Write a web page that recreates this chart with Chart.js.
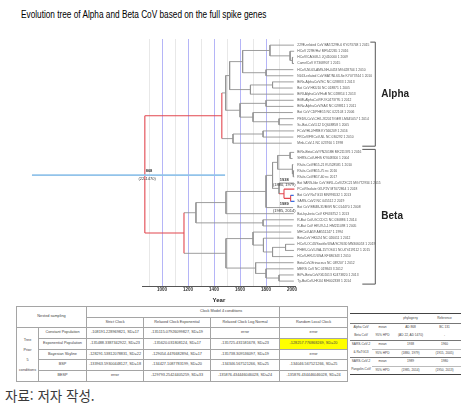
<!DOCTYPE html>
<html lang="ko">
<head>
<meta charset="utf-8">
<title>CoV spike gene tree</title>
<script src="https://cdn.jsdelivr.net/npm/chart.js@4.4.0/dist/chart.umd.min.js"></script>
<style>
  body { margin: 0; background: #fff; }
  #page { position: relative; width: 470px; height: 411px; overflow: hidden; }
  #title { position: absolute; left: 21px; top: 9px; font: 10px 'Liberation Sans Narrow', 'Liberation Sans', sans-serif; color: #000; white-space: nowrap; transform-origin: 0 0; }
  #chartBox { position: absolute; left: 0; top: 0; width: 470px; height: 305px; }
  table { position: absolute; border-collapse: collapse; table-layout: fixed; font-family: 'Liberation Sans Narrow', 'Liberation Sans', sans-serif; color: #444; }
  td { padding: 0; text-align: center; white-space: nowrap; overflow: hidden; line-height: 1; }
  #nested { left: 16px; top: 306px; width: 331px; font-size: 3.8px; border: 1px solid #666; }
  #nested td { border: 1px solid #a5a5a5; }
  #nested td.hi { background: #ffff00; }
  #tmrca { left: 350px; top: 313px; width: 111px; font-size: 3.2px; border-top: 1px solid #444; border-bottom: 1px solid #444; }
  #tmrca tr.sep td { border-top: 1px solid #777; }
  #tmrca tr.sub td + td { border-top: 1px solid #bbb; }
  #note { position: absolute; left: 5px; top: 389px; font: 13.5px 'Noto Sans CJK KR', sans-serif; color: #3a3a3a; line-height: 1; }
</style>
</head>
<body>
<div id="page">
  <div id="title">Evolution tree of Alpha and Beta CoV based on the full spike genes</div>
  <div id="chartBox"><canvas id="tree" width="470" height="305"></canvas></div>

  <table id="nested">
    <colgroup><col style="width:22px"><col style="width:48px"><col style="width:57px"><col style="width:67px"><col style="width:69px"><col style="width:68px"></colgroup>
    <tr style="height:11px"><td colspan="2" rowspan="2">Nested sampling</td><td colspan="3" style="text-align:left;padding-left:113px">Clock Model 4 conditions</td><td></td></tr>
    <tr style="height:10px"><td>Strict Clock</td><td>Relaxed Clock Exponential</td><td>Relaxed Clock Log Normal</td><td>Random Local Clock</td></tr>
    <tr style="height:11px"><td rowspan="5" style="line-height:10px">Tree<br>Prior<br>5<br>conditions</td><td>Constant Population</td><td>-108191.228969821, SD=17</td><td>-135115.07926099827, SD=19</td><td>error</td><td>error</td></tr>
    <tr style="height:11px"><td>Exponential Population</td><td>-135488.3387342922, SD=23</td><td>-135620.031808124, SD=17</td><td>-135725.431581678, SD=23</td><td class="hi">-128257.776868269, SD=20</td></tr>
    <tr style="height:10px"><td>Bayesian Skyline</td><td>-128291.53812078831, SD=22</td><td>-129054.4476682894, SD=17</td><td>-135738.309536097, SD=19</td><td>error</td></tr>
    <tr style="height:11px"><td>BSP</td><td>-133963.59300448127, SD=18</td><td>-134427.1087783199, SD=20</td><td>-134346.567521266, SD=25</td><td>-134046.567521266, SD=25</td></tr>
    <tr style="height:11px"><td>BESP</td><td>error</td><td>-129793.25424405259, SD=33</td><td>-135876.434446046028, SD=24</td><td>-135876.434446046028, SD=24</td></tr>
  </table>

  <table id="tmrca">
    <colgroup><col style="width:22px"><col style="width:21px"><col style="width:35px"><col style="width:33px"></colgroup>
    <tr style="height:10px"><td></td><td></td><td>phylogeny</td><td>Reference</td></tr>
    <tr class="sep" style="height:8.5px"><td>Alpha CoV</td><td>mean</td><td>AD 868</td><td>BC 131</td></tr>
    <tr style="height:8.5px"><td>Beta CoV</td><td>95% HPD</td><td>(AD 22, AD 1470)</td><td>-</td></tr>
    <tr class="sep" style="height:8.5px"><td>SARS-CoV-2</td><td>mean</td><td>1938</td><td>1960</td></tr>
    <tr class="sub" style="height:8.5px"><td>&amp; RaTG13</td><td>95% HPD</td><td>(1880, 1979)</td><td>(1915, 2005)</td></tr>
    <tr class="sep" style="height:8.5px"><td>SARS-CoV-2</td><td>mean</td><td>1989</td><td>1980</td></tr>
    <tr class="sub" style="height:8.5px"><td>Pangolin-CoV</td><td>95% HPD</td><td>(1985, 2014)</td><td>(1950, 2013)</td></tr>
  </table>

  <div id="note">자료: 저자 작성.</div>
</div>

<script>
// tips, top to bottom
const leafNames = [
  '229E-related CoV BAT/229E-6 KY073748 1 2015', 'HCoV 229E/Hu/ MF542265 1 2016', 'HCoV/CAG08-1 JQ410000 1 2009',
  'CamelCoV KT368907 1 2015', 'HCoV-NL63-AMS-NH-0453 MG428704 1 2010', 'NL63-related CoV BAT/NL63-Se KY073744 1 2010',
  'BtRs-AlphaCoV/SC NC 028833 1 2013', 'Bat CoV HKU10 NC 018871 1 2005', 'BtRf-AlphaCoV/HuB NC 028814 1 2013',
  'BtMf-AlphaCoV/FJ KJ473795 1 2012', 'BtNv-AlphaCoV/SAX NC 028811 1 2011', 'Bat CoV CDPHE15 NC 022103 1 2006',
  'PEDV-CoV-CH/LJX2017/GER LM645057 1 2014', 'Sc-Bat-CoV-512 DQ648858 1 2005', 'FCoV/HLJ/HRB KY566209 1 2016',
  'FRCoV/FRCoV-NL NC 030292 1 2010', 'Mink-CoV-1 NC 023760 1 1998',
  'BtRs-BetaCoV/YN2018B MK211376 1 2016', 'SHRS-CoV-HHS KY648300 1 2004', 'Rh-fe-CoV/B15-21 KU528581 1 2010',
  'Rh-fe-CoV/B15-75 nc 2016', 'Rh-fe-CoV/B17-60 nc 2017', 'Bat SARS-like CoV BtRL-CoV/ZXC21 MG772934 1 2015',
  'PCoV/Isolate GX-P2V MT072864 1 2018', 'Bat CoV RaTG13 MN996532 1 2013', 'SARS-CoV2 NC 045512 2 2019',
  'Bat CoV BM48-31/BGR NC 014470 1 2008', 'Bat-hp-beta CoV KF636752 1 2013', 'R-Bat CoV-GCCDC1 NC 030886 1 2014',
  'R-Bat CoV HKU9-5-1 HM211098 1 2005', 'MHCoV-A59 AB551247 1 1994', 'BetaCoV HKU24 NC 026011 1 2012',
  'HCoV-OC43/Seattle/USA/SC9430 MN306053 1 2019', 'PHEV-CoV-USA-15TOSU1 NO-KY419112 1 2015', 'HCoV-HKU1/USA KF686343 1 2010',
  'BetaCoV-Erinaceus NC 039207 1 2012', 'MERS CoV NC 019843 3 2012', 'BtPv-BetaCoV/GD2013 KJ473820 1 2013',
  'Ty-BatCoV-HKU4 MH002338 1 2014'
];
const leafYears = [2015, 2016, 2009, 2015, 2010, 2010, 2013, 2005, 2013, 2012, 2011, 2006, 2014, 2005, 2016, 2010, 1998,
  2016, 2004, 2010, 2016, 2017, 2015, 2018, 2013, 2019, 2008, 2013, 2014, 2005, 1994, 2012, 2019, 2015, 2010, 2012, 2012, 2013, 2014];

// internal nodes: first tip, last tip, node age (year)
const nodeFirst = [0, 0, 0, 0, 0, 0, 1, 2, 4, 6, 6, 9, 9, 11, 12, 14, 14, 17, 17, 17, 17, 17, 17, 17, 19, 20, 22, 23, 24, 28, 30, 30, 31, 32, 32, 35, 36, 37];
const nodeLast = [38, 16, 13, 8, 5, 3, 3, 3, 5, 8, 7, 13, 10, 13, 13, 16, 15, 38, 29, 27, 26, 25, 21, 18, 21, 21, 25, 25, 25, 29, 38, 34, 34, 34, 33, 38, 38, 38];
const nodeYears = [868, 1460, 1490, 1520, 1620, 1830, 1985, 2003, 1800, 1680, 1850, 1600, 1800, 1700, 1900, 1546, 1777, 1169, 1261, 1492,
  1800, 1850, 1890, 1985, 2003, 2010, 1900, 1938, 1989, 1777, 1492, 1700, 1780, 1850, 1950, 1720, 1800, 1900];

const groupNames = ['Alpha', 'Beta'];
const groupFirst = [0, 17];
const groupLast = [16, 38];

const yearTicks = [900, 1000, 1100, 1200, 1300, 1400, 1500, 1600, 1700, 1800, 1900, 2000];

// node age labels (text, year, tree row)
const noteTexts = ['868', '(22-1470)', '1938', '(1880, 1979)', '1989', '(1985, 2014)'];
const noteYears = [900, 885, 1940, 1940, 1940, 1940];
const notePos = [20.55, 21.86, 22.0, 22.84, 25.94, 27.08];

// light blue marker line
const markYears = [0, 1485];
const markPos = 21.2;

// branch colours
const redBars = [0, 1, 17, 27, 28];
const redNodeEdges = [1, 17, 27, 28];
const redLeafEdges = [23];
const blueLeafEdges = [24, 25];

const leafPos = leafNames.map((_, i) => i >= groupFirst[1] ? i + 0.5 : i);
const span = (n) => nodeLast[n] - nodeFirst[n];

function smallestAround(first, last, skip) {
  let best = -1;
  nodeYears.forEach((_, m) => {
    if (m === skip) return;
    if (nodeFirst[m] <= first && last <= nodeLast[m] && (best < 0 || span(m) < span(best))) best = m;
  });
  return best;
}

const nodeParent = nodeYears.map((_, n) => smallestAround(nodeFirst[n], nodeLast[n], n));
const leafParent = leafNames.map((_, i) => smallestAround(i, i, -1));

const nodeY = [];
const nodeBar = [];
nodeYears.map((_, n) => n).sort((a, b) => span(a) - span(b)).forEach(n => {
  const kids = [];
  leafParent.forEach((p, i) => { if (p === n) kids.push([i, leafPos[i]]); });
  nodeParent.forEach((p, m) => { if (p === n) kids.push([nodeFirst[m], nodeY[m]]); });
  kids.sort((a, b) => a[0] - b[0]);
  nodeBar[n] = [kids[0][1], kids[kids.length - 1][1]];
  nodeY[n] = (nodeBar[n][0] + nodeBar[n][1]) / 2;
});

const lines = { gray: [], red: [], blue: [] };
function seg(color, x1, y1, x2, y2) {
  lines[color].push({ x: x1, y: y1 }, { x: x2, y: y2 }, { x: null, y: null });
}

nodeYears.forEach((year, n) => {
  seg(redBars.includes(n) ? 'red' : 'gray', year, nodeBar[n][0], year, nodeBar[n][1]);
  if (nodeParent[n] >= 0) {
    seg(redNodeEdges.includes(n) ? 'red' : 'gray', nodeYears[nodeParent[n]], nodeY[n], year, nodeY[n]);
  }
});
leafYears.forEach((year, i) => {
  const c = redLeafEdges.includes(i) ? 'red' : blueLeafEdges.includes(i) ? 'blue' : 'gray';
  seg(c, nodeYears[leafParent[i]], leafPos[i], year, leafPos[i]);
});

const extras = {
  id: 'extras',
  afterDatasetsDraw(chart) {
    const { ctx, chartArea } = chart;
    const x = chart.scales.x;
    const y = chart.scales.y;
    ctx.save();
    ctx.fillStyle = '#333';
    ctx.textAlign = 'center';
    ctx.textBaseline = 'middle';
    noteTexts.forEach((t, i) => {
      ctx.font = (i % 2 === 0 ? 'bold ' : '') + '4px "Liberation Sans", sans-serif';
      ctx.fillText(t, x.getPixelForValue(noteYears[i]), y.getPixelForValue(notePos[i]));
    });

    // clade brackets
    const bx = chartArea.right + 80;
    ctx.strokeStyle = '#555';
    ctx.lineWidth = 1;
    ctx.fillStyle = '#222';
    ctx.textAlign = 'left';
    ctx.font = 'bold 10px "Liberation Sans Narrow", "Liberation Sans", sans-serif';
    groupNames.forEach((name, g) => {
      const top = y.getPixelForValue(leafPos[groupFirst[g]]) - 3;
      const bottom = y.getPixelForValue(leafPos[groupLast[g]]) + 3;
      const hookTop = g === 0 ? 5 : 13;
      ctx.beginPath();
      ctx.moveTo(bx - hookTop, top);
      ctx.lineTo(bx, top);
      ctx.lineTo(bx, bottom);
      ctx.lineTo(bx - 13, bottom);
      ctx.stroke();
      ctx.fillText(name, bx + 6, (top + bottom) / 2);
    });
    ctx.restore();
  }
};

const lineStyle = { showLine: true, pointRadius: 0, spanGaps: false, fill: false };

new Chart(document.getElementById('tree').getContext('2d'), {
  type: 'scatter',
  data: {
    datasets: [
      { ...lineStyle, data: markYears.map(v => ({ x: v, y: markPos })), borderColor: '#92c3ea', borderWidth: 1.8, clip: false },
      { ...lineStyle, data: lines.blue, borderColor: '#3d6fe0', borderWidth: 1.2 },
      { ...lineStyle, data: lines.red, borderColor: '#e2474f', borderWidth: 1.1 },
      { ...lineStyle, data: lines.gray, borderColor: '#939393', borderWidth: 0.9 },
    ]
  },
  options: {
    responsive: false,
    animation: false,
    devicePixelRatio: 1,
    events: [],
    layout: { padding: { left: 142.5, top: 39, right: 0, bottom: 0 } },
    plugins: {
      legend: { display: false },
      tooltip: { enabled: false },
    },
    scales: {
      x: {
        type: 'linear',
        min: 850,
        max: 2025,
        afterBuildTicks: (scale) => { scale.ticks = yearTicks.map(v => ({ value: v })); },
        afterFit: (scale) => { scale.height = 19; },
        ticks: {
          autoSkip: false,
          maxRotation: 0,
          padding: 1.5,
          color: '#333',
          font: { family: 'Liberation Sans', size: 4.5, weight: 'bold' },
          callback: (v) => (v % 200 === 0 && v >= 1000) ? String(v) : '',
        },
        grid: {
          drawTicks: false,
          lineWidth: 1,
          color: (c) => {
            if (!c.tick || c.tick.value >= 2000) return 'rgba(0,0,0,0)';
            return c.tick.value % 200 === 0 ? 'rgba(120,120,240,0.55)' : '#e8e8e8';
          },
        },
        border: { display: true, color: '#555', width: 1 },
        title: {
          display: true,
          text: 'Year',
          color: '#222',
          padding: { top: 0, bottom: 1 },
          font: { family: 'Liberation Sans', size: 6, weight: 'bold' },
        },
      },
      y: {
        type: 'linear',
        position: 'right',
        reverse: true,
        min: -1,
        max: 39.3,
        afterBuildTicks: (scale) => { scale.ticks = leafPos.map(v => ({ value: v })); },
        afterFit: (scale) => { scale.width = 174.7; },
        ticks: {
          autoSkip: false,
          padding: 2,
          color: '#555',
          font: { family: 'Liberation Sans', size: 3.3 },
          callback: (v, i) => leafNames[i],
        },
        grid: { display: false, drawTicks: false },
        border: { display: false },
      },
    },
  },
  plugins: [extras],
});

const title = document.getElementById('title');
title.style.transform = 'scaleX(' + (245 / title.offsetWidth) + ')';
</script>
</body>
</html>
